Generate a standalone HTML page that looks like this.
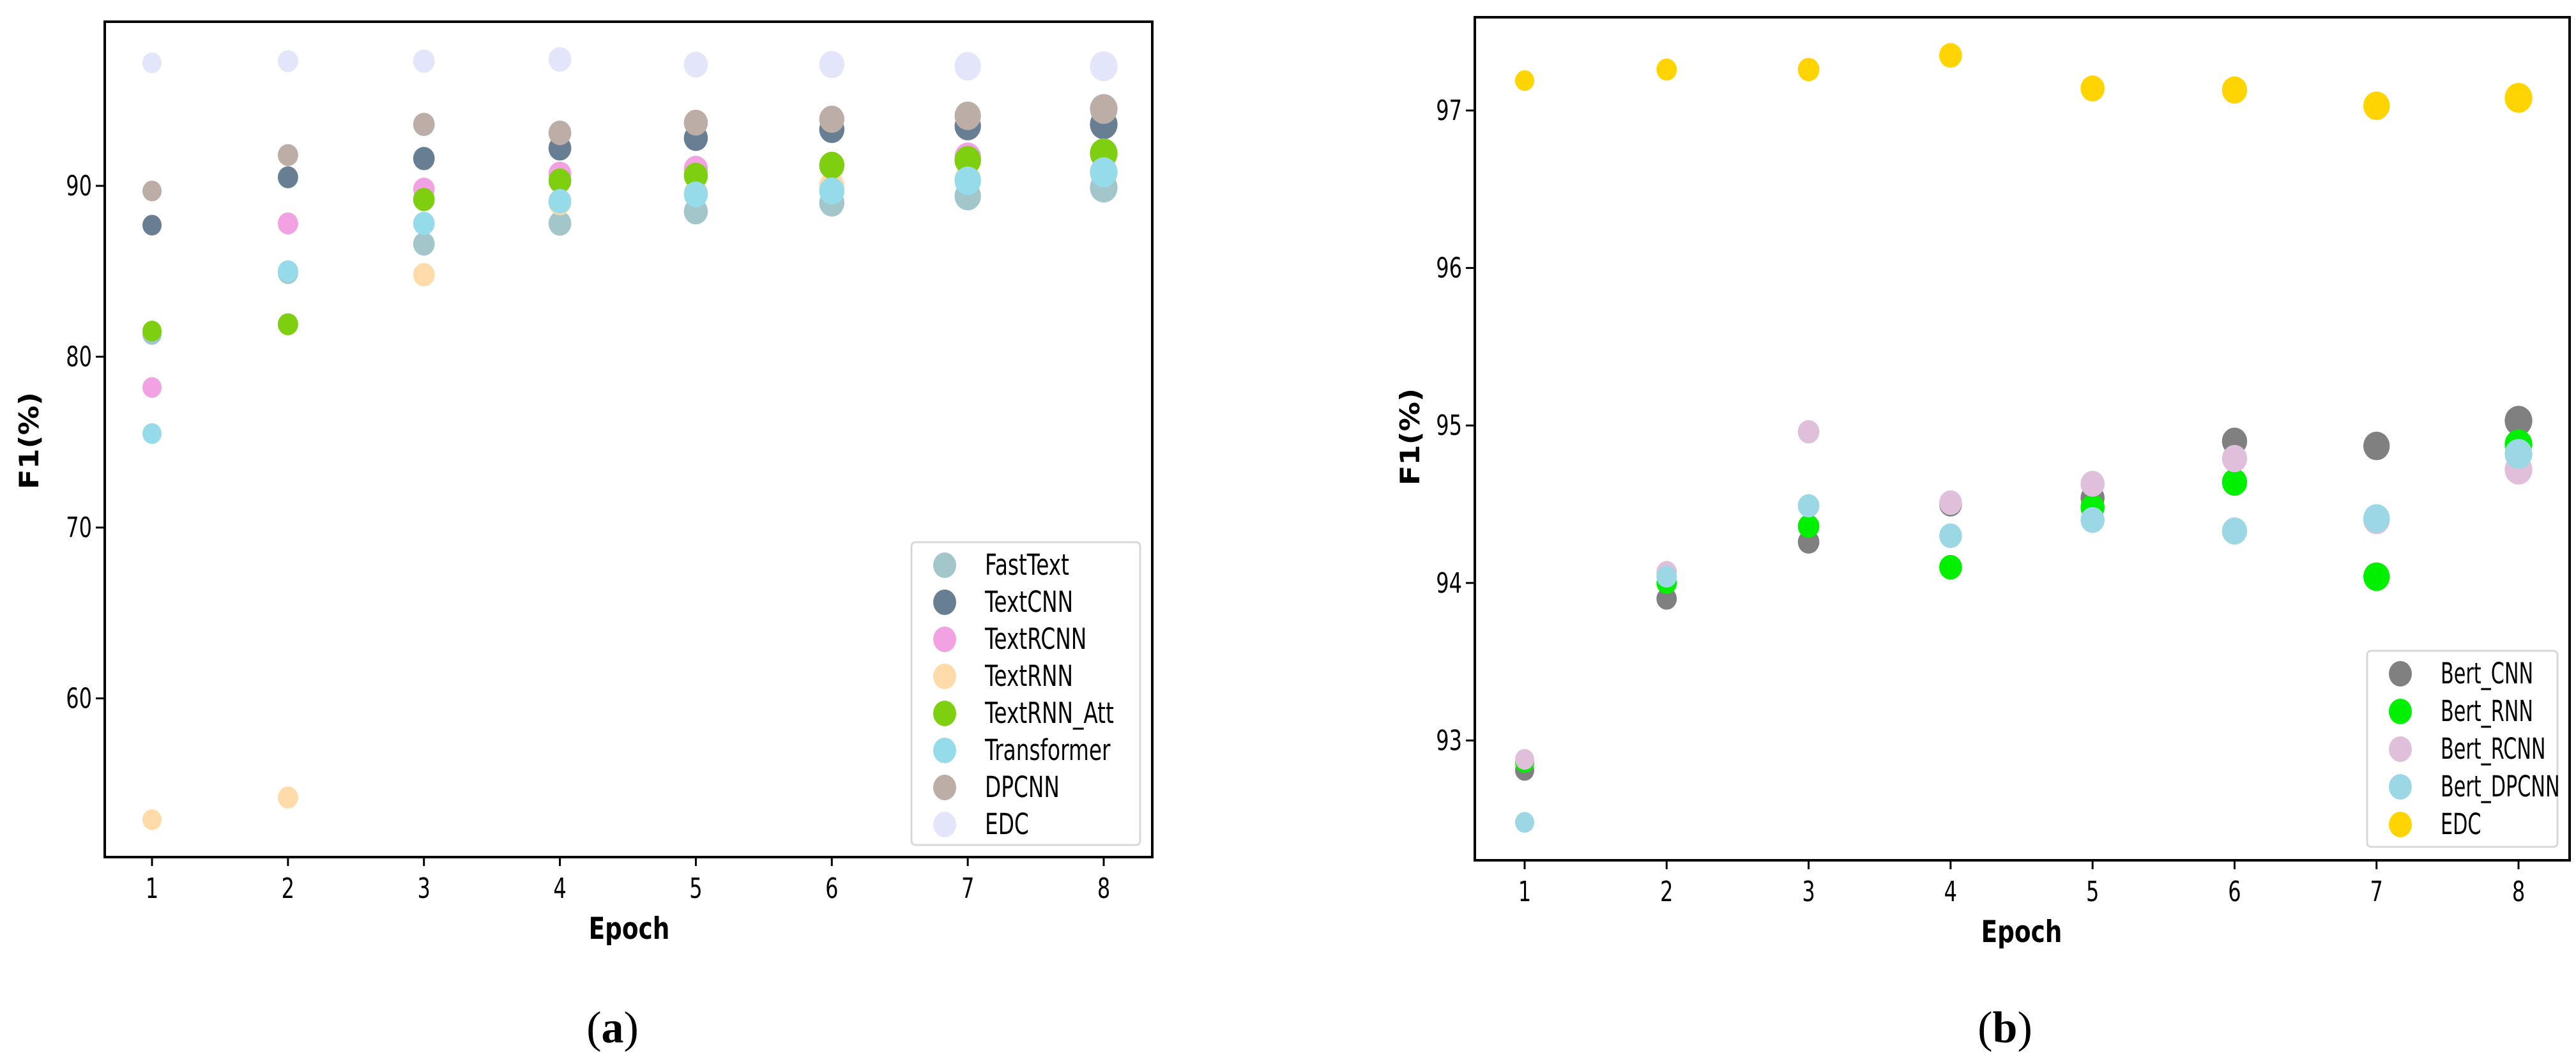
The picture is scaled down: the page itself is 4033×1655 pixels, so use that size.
<!DOCTYPE html>
<html><head><meta charset="utf-8"><style>
html,body{margin:0;padding:0;background:#fff;}
svg{display:block;}
text{font-family:"DejaVu Sans","Liberation Sans",sans-serif;}
</style></head><body>
<svg id="chart" width="4033" height="1655" viewBox="0 0 4033 1655" xmlns="http://www.w3.org/2000/svg"></svg>
<script>
// ---------- data ----------
const epochs = [1,2,3,4,5,6,7,8];
// Panel (a)
const aSeriesNames = ["FastText","TextCNN","TextRCNN","TextRNN","TextRNN_Att","Transformer","DPCNN","EDC"];
const aColors = ["#a3c6ca","#687f93","#f2a2e2","#fedba8","#7dcf10","#96dbe9","#bcaea7","#e3e5fa"];
const aFastText   = [81.3,84.9,86.6,87.8,88.5,89.0,89.4,89.9];
const aTextCNN    = [87.7,90.5,91.6,92.2,92.8,93.3,93.5,93.6];
const aTextRCNN   = [78.2,87.8,89.8,90.7,91.0,91.2,91.7,91.9];
const aTextRNN    = [52.9,54.2,84.8,89.0,89.6,90.0,90.4,90.8];
const aTextRNNAtt = [81.5,81.9,89.2,90.3,90.6,91.2,91.5,91.9];
const aTransformer= [75.5,85.0,87.8,89.1,89.5,89.7,90.3,90.8];
const aDPCNN      = [89.7,91.8,93.6,93.1,93.7,93.9,94.1,94.5];
const aEDC        = [97.2,97.3,97.3,97.4,97.1,97.1,97.0,97.0];
const aYTicks = [60,70,80,90];
// Panel (b)
const bSeriesNames = ["Bert_CNN","Bert_RNN","Bert_RCNN","Bert_DPCNN","EDC"];
const bColors = ["#808080","#00f000","#dfbfd9","#9bd7e4","#ffd400"];
const bBertCNN   = [92.81,93.90,94.26,94.50,94.54,94.90,94.87,95.03];
const bBertRNN   = [92.86,94.00,94.36,94.10,94.48,94.64,94.04,94.88];
const bBertRCNN  = [92.88,94.07,94.96,94.51,94.63,94.79,94.40,94.72];
const bBertDPCNN = [92.48,94.04,94.49,94.30,94.40,94.33,94.41,94.82];
const bEDC       = [97.19,97.26,97.26,97.35,97.14,97.13,97.03,97.08];
const bYTicks = [93,94,95,96,97];

const NS="http://www.w3.org/2000/svg";
const svg=document.getElementById('chart');
function mk(tag,attrs,parent){const e=document.createElementNS(NS,tag);for(const k in attrs)e.setAttribute(k,attrs[k]);(parent||svg).appendChild(e);return e;}
function ctext(x,y,size,anchor,parent,sx){
  return mk('text',{x:0,y:0,'font-size':size,'text-anchor':anchor,fill:'#000',transform:`translate(${x},${y}) scale(${sx||0.8},1.08)`},parent);
}

function panel(cfg){
  const g=mk('g',{});
  
  
  const xs=e=>cfg.x1+(e-1)*(cfg.x8-cfg.x1)/7;
  const ys=v=>cfg.yRef+(cfg.vRef-v)*cfg.pxPer;
  epochs.forEach(e=>{
    mk('line',{x1:xs(e),x2:xs(e),y1:cfg.bottom,y2:cfg.bottom+14,stroke:'#000','stroke-width':3},g);
    const t=ctext(xs(e),cfg.bottom+64,40,'middle',g);
    t.textContent=e;
    
    
  });
  cfg.yTicks.forEach(v=>{
    mk('line',{x1:cfg.left-14,x2:cfg.left,y1:ys(v),y2:ys(v),stroke:'#000','stroke-width':3},g);
    const t=ctext(cfg.left-20,ys(v)+15,40,'end',g);
    t.textContent=v;
    
    
  });
  cfg.series.forEach((s,i)=>{
    const sg=mk('g',{},g);
    
    
    s.forEach((v,j)=>{
      const rx=15+j*0.95;
      const c=mk('ellipse',{cx:xs(epochs[j]),cy:ys(v),rx:rx,ry:rx*1.08,fill:cfg.colors[i]},sg);
      
      
    });
  });
  const f=mk('rect',{x:cfg.left,y:cfg.top,width:cfg.right-cfg.left,height:cfg.bottom-cfg.top,fill:'none',stroke:'#000','stroke-width':4},g);
  
  
  const xt=ctext(cfg.xTitleX,cfg.bottom+128,44,'middle',g,0.85);
  xt.setAttribute('font-weight','bold');
  xt.textContent='Epoch';
  
  
  const yt=mk('text',{x:0,y:0,'font-size':42,'font-weight':'bold','text-anchor':'middle',fill:'#000',transform:`translate(${cfg.yTitleX},${cfg.yTitleY}) rotate(-90) scale(1.1,1)`},g);
  yt.textContent='F1(%)';
  
  
  const lg=mk('g',{},g);
  
  
  mk('rect',{x:cfg.legX,y:cfg.legY,width:cfg.legW,height:cfg.legH,rx:6,fill:'#fff',stroke:'#d8d8d8','stroke-width':3},lg);
  cfg.names.forEach((n,i)=>{
    const yy=cfg.legY+cfg.legFirst+i*cfg.legStep;
    const le=mk('g',{},lg);
    
    
    mk('ellipse',{cx:cfg.legX+52,cy:yy,rx:18,ry:20,fill:cfg.colors[i]},le);
    const t=ctext(cfg.legX+115,yy+15,42,'start',le,cfg.legSx);
    t.textContent=n;
  });
  const cap=mk('text',{x:cfg.capX,y:1632,'font-size':70,'text-anchor':'middle',fill:'#000',style:'font-family:"Liberation Serif",serif'},g);
  cap.innerHTML=cfg.cap;
  
  
}

panel({name:'panel-a',left:164,right:1804,top:34,bottom:1342,x1:238,x8:1728,yRef:291,vRef:90,pxPer:26.75,
  yTicks:aYTicks,series:[aFastText,aTextCNN,aTextRCNN,aTextRNN,aTextRNNAtt,aTransformer,aDPCNN,aEDC],
  names:aSeriesNames,colors:aColors,xTitleX:985,yTitleX:60,yTitleY:690,legSx:0.78,
  legX:1427,legY:849,legW:358,legH:474,legFirst:36,legStep:58,capX:959,cap:'(<tspan font-weight="bold">a</tspan>)'});
panel({name:'panel-b',left:2309,right:4023,top:27,bottom:1347,x1:2387,x8:3943,yRef:173,vRef:97,pxPer:246.6,
  yTicks:bYTicks,series:[bBertCNN,bBertRNN,bBertRCNN,bBertDPCNN,bEDC],
  names:bSeriesNames,colors:bColors,xTitleX:3165,yTitleX:2222,yTitleY:684,legSx:0.72,
  legX:3706,legY:1019,legW:298,legH:307,legFirst:36,legStep:59,capX:3139,cap:'(<tspan font-weight="bold">b</tspan>)'});
</script>
</body></html>
